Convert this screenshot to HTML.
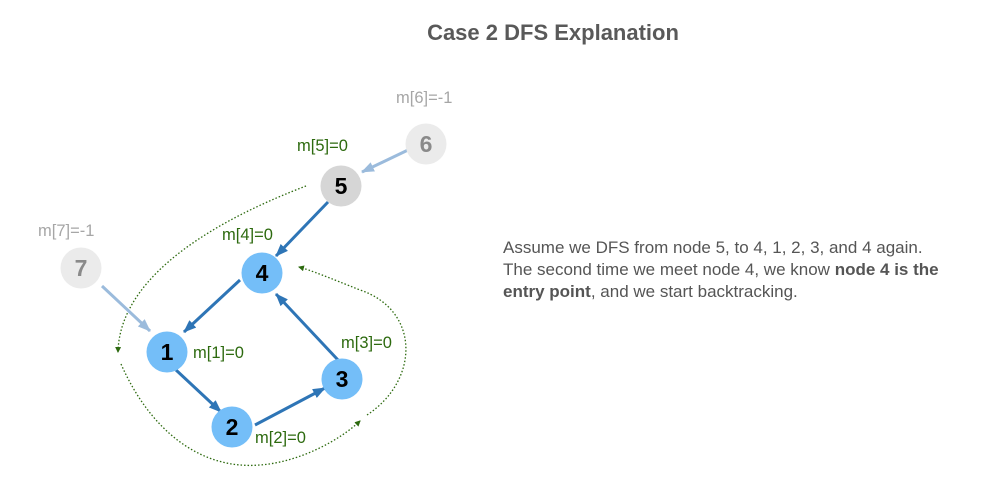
<!DOCTYPE html>
<html><head><style>
body{margin:0;background:#fff;}
svg{display:block;font-family:"Liberation Sans",sans-serif;}
</style></head><body>
<svg width="1000" height="485" viewBox="0 0 1000 485">
<defs>
<marker id="ab" markerWidth="13" markerHeight="10" refX="12" refY="5" orient="auto" markerUnits="userSpaceOnUse"><path d="M0,0 L13,5 L0,10 Z" fill="#2e75b6"/></marker>
<marker id="al" markerWidth="13" markerHeight="10" refX="12" refY="5" orient="auto" markerUnits="userSpaceOnUse"><path d="M0,0 L13,5 L0,10 Z" fill="#9bbbdc"/></marker>
<marker id="ag" markerWidth="6" markerHeight="6" refX="5" refY="3" orient="auto" markerUnits="userSpaceOnUse"><path d="M0,0 L6,3 L0,6 Z" fill="#2d6a0f"/></marker>
</defs>
<text x="553" y="40" font-size="22" font-weight="bold" fill="#595959" text-anchor="middle">Case 2 DFS Explanation</text>

<g stroke="#2d6a0f" stroke-width="1.3" stroke-dasharray="1.5,2" fill="none">
<path d="M306,186 C230,215 120,270 118,352" marker-end="url(#ag)"/>
<path d="M121,364 C150,430 200,470 260,465 C300,462 340,440 360,421" marker-end="url(#ag)"/>
<path d="M367,415 C420,380 420,310 360,290 C330,278 310,270 299,267" marker-end="url(#ag)"/>
</g>

<g stroke-width="3" fill="none">
<line x1="408" y1="150" x2="362" y2="172" stroke="#9bbbdc" marker-end="url(#al)"/>
<line x1="102" y1="286" x2="150" y2="331" stroke="#9bbbdc" marker-end="url(#al)"/>
<line x1="328" y1="202" x2="276" y2="256" stroke="#2e75b6" marker-end="url(#ab)"/>
<line x1="240" y1="280" x2="184" y2="332" stroke="#2e75b6" marker-end="url(#ab)"/>
<line x1="176" y1="370" x2="221" y2="412" stroke="#2e75b6" marker-end="url(#ab)"/>
<line x1="255" y1="425" x2="325" y2="388" stroke="#2e75b6" marker-end="url(#ab)"/>
<line x1="338" y1="360" x2="276" y2="294" stroke="#2e75b6" marker-end="url(#ab)"/>
</g>

<g font-size="23" font-weight="bold" text-anchor="middle">
<circle cx="426" cy="144" r="20.5" fill="#ebebeb"/><text x="426" y="152" fill="#8a8a8a">6</text>
<circle cx="81" cy="268" r="20.5" fill="#ebebeb"/><text x="81" y="276" fill="#8a8a8a">7</text>
<circle cx="341" cy="186" r="20.5" fill="#d6d6d6"/><text x="341" y="194" fill="#000">5</text>
<circle cx="262" cy="273" r="20.5" fill="#74bef8"/><text x="262" y="281" fill="#000">4</text>
<circle cx="167" cy="352" r="20.5" fill="#74bef8"/><text x="167" y="360" fill="#000">1</text>
<circle cx="342" cy="379" r="20.5" fill="#74bef8"/><text x="342" y="387" fill="#000">3</text>
<circle cx="232" cy="427" r="20.5" fill="#74bef8"/><text x="232" y="435" fill="#000">2</text>
</g>

<g font-size="16.5">
<text x="396" y="103" fill="#a6a6a6">m[6]=-1</text>
<text x="38" y="236" fill="#a6a6a6">m[7]=-1</text>
<g fill="#2d6a0f">
<text x="297" y="151">m[5]=0</text>
<text x="222" y="240">m[4]=0</text>
<text x="193" y="358">m[1]=0</text>
<text x="341" y="348">m[3]=0</text>
<text x="255" y="443">m[2]=0</text>
</g>
</g>

<g font-size="17" fill="#555">
<text x="503" y="253">Assume we DFS from node 5, to 4, 1, 2, 3, and 4 again.</text>
<text x="503" y="275">The second time we meet node 4, we know <tspan font-weight="bold">node 4 is the</tspan></text>
<text x="503" y="297"><tspan font-weight="bold">entry point</tspan>, and we start backtracking.</text>
</g>
</svg>
</body></html>
